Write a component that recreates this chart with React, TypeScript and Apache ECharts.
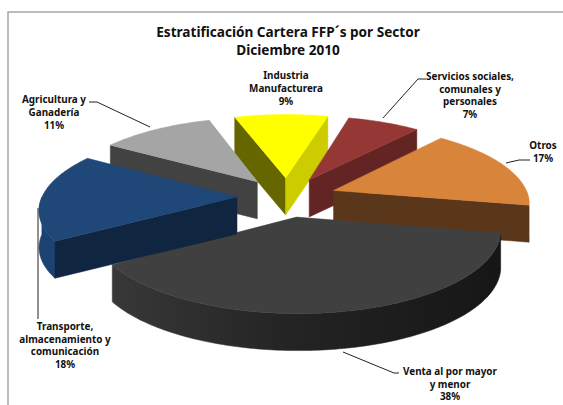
import React, { useEffect, useRef } from "react";
import * as echarts from "echarts";

const titleLines = ["Estratificación Cartera FFP´s por Sector", "Diciembre 2010"];
const categories = [
  "Venta al por mayor\ny menor",
  "Transporte,\nalmacenamiento y\ncomunicación",
  "Agricultura y\nGanadería",
  "Industria\nManufacturera",
  "Servicios sociales,\ncomunales y\npersonales",
  "Otros",
];
const values = [38, 18, 11, 9, 7, 17];

// styles, per slice: top, wall at the slice's start edge, wall at its end edge, outer rim
const topColors = ["#404040", "#1f4778", "#a5a5a5", "#ffff00", "#953735", "#d9843b"];
const startWallColors = ["#262626", "#10253f", "#424242", "#666600", "#4a1b1a", "#7f4a1c"];
const endWallColors = ["#262626", "#10253f", "#424242", "#cccc00", "#632523", "#5a361a"];
const rimColors = ["#1c1c1c", "#1c4272", "#424242", "#999900", "#632523", "#f08a35"];
const drawOrder = [3, 4, 5, 2, 0, 1];

// layout
const CX = 287, CY = 197, R = 195, TILT = 0.395, PERSP = 0.138, EXPLODE = 50, DEPTH = 37, START = 11;
const FONT = "'Noto Sans', sans-serif";

// label layout, per category: centre x, first line middle y, line height
const labelPos: [number, number, number][] = [
  [450, 371, 12.5], [65, 326, 12.7], [54, 99, 13], [286, 75, 12.8], [470, 76, 12.7], [543, 145, 12.5],
];
const leaders: number[][][] = [
  [[399, 373], [394, 373], [343, 352]],
  [[38, 319], [38, 208]],
  [[89, 102], [97, 102], [150, 127]],
  [],
  [[426, 79], [418, 79], [383, 118]],
  [[530, 160], [519, 160], [506, 163]],
];

function sliceAngles(i: number) {
  const total = values.reduce((a, b) => a + b, 0);
  const before = values.slice(0, i).reduce((a, b) => a + b, 0);
  const a0 = START + (before / total) * 360;
  return [a0, a0 + (values[i] / total) * 360];
}

function project(mid: number, theta: number, r: number, z: number) {
  const m = (mid * Math.PI) / 180, t = (theta * Math.PI) / 180;
  const X = EXPLODE * Math.cos(m) + r * Math.cos(t);
  const Y = EXPLODE * Math.sin(m) + r * Math.sin(t);
  const s = 1 / (1 - (PERSP * Y) / R);
  return [CX + X * s, CY + Y * TILT * s + z];
}

function renderSlice(params: any, api: any) {
  const i = drawOrder[params.dataIndex];
  const [a0, a1] = sliceAngles(i);
  const mid = (a0 + a1) / 2;
  const steps = Math.ceil(a1 - a0);
  const arc: number[][] = [];
  const arcBelow: number[][] = [];
  for (let k = 0; k <= steps; k++) {
    const t = a0 + ((a1 - a0) * k) / steps;
    arc.push(project(mid, t, R, 0));
    arcBelow.push(project(mid, t, R, DEPTH));
  }
  const apex = project(mid, 0, 0, 0);
  const apexBelow = project(mid, 0, 0, DEPTH);
  const children: any[] = [];
  const poly = (points: number[][], fill: any) =>
    children.push({ type: "polygon", shape: { points }, style: { fill, stroke: fill, lineWidth: 0.5 } });
  const cos = (d: number) => Math.cos((d * Math.PI) / 180);
  const sin = (d: number) => Math.sin((d * Math.PI) / 180);

  // outer rim: only the part of the arc that faces the viewer
  const rimTop: number[][] = [];
  const rimBottom: number[][] = [];
  for (let k = 0; k <= steps; k++) {
    const t = a0 + ((a1 - a0) * k) / steps;
    if (sin(t) >= 0) {
      rimTop.push(arc[k]);
      rimBottom.push(arcBelow[k]);
    }
  }
  if (rimTop.length > 1) {
    const fill =
      i === 0
        ? new echarts.graphic.LinearGradient(0, 0, 1, 0, [
            { offset: 0, color: "#383838" },
            { offset: 0.45, color: "#242424" },
            { offset: 1, color: "#161616" },
          ])
        : rimColors[i];
    poly([...rimTop, ...rimBottom.slice().reverse()], fill);
  }
  if (cos(a0) < 0) poly([apex, arc[0], arcBelow[0], apexBelow], startWallColors[i]);
  if (cos(a1) > 0) poly([apex, arc[steps], arcBelow[steps], apexBelow], endWallColors[i]);
  poly([apex, ...arc], topColors[i]);
  return { type: "group", children };
}

export default function App() {
  const ref = useRef<HTMLDivElement>(null);
  useEffect(() => {
    const chart = echarts.init(ref.current!, undefined, { renderer: "svg" });
    const graphics: any[] = [
      {
        type: "rect",
        shape: { x: 8, y: 12, width: 640, height: 480 },
        style: { fill: "none", stroke: "#a6a6a6", lineWidth: 1.5 },
        silent: true,
        z: 0,
      },
    ];
    titleLines.forEach((line, k) =>
      graphics.push({
        type: "text",
        x: 288,
        y: 31 + k * 18,
        z: 10,
        style: {
          text: line,
          fill: "#111",
          font: `bold 13.6px ${FONT}`,
          align: "center",
          verticalAlign: "middle",
        },
      })
    );
    categories.forEach((name, i) => {
      const [x, y, lh] = labelPos[i];
      [...name.split("\n"), `${values[i]}%`].forEach((line, k) =>
        graphics.push({
          type: "text",
          x,
          y: y + k * lh,
          z: 10,
          style: {
            text: line,
            fill: "#111",
            font: `bold 9.9px ${FONT}`,
            align: "center",
            verticalAlign: "middle",
          },
        })
      );
      if (leaders[i].length)
        graphics.push({
          type: "polyline",
          z: 10,
          shape: { points: leaders[i] },
          style: { stroke: "#222", lineWidth: 1, fill: "none" },
        });
    });
    chart.setOption({
      animation: false,
      backgroundColor: "#fff",
      series: [
        {
          type: "custom",
          coordinateSystem: "none",
          silent: true,
          z: 2,
          data: drawOrder.map((i) => ({ name: categories[i], value: values[i] })),
          renderItem: renderSlice,
        },
      ],
      graphic: graphics,
    });
    return () => chart.dispose();
  }, []);
  return <div ref={ref} style={{ position: "absolute", left: 0, top: 0, width: 563, height: 405 }} />;
}
